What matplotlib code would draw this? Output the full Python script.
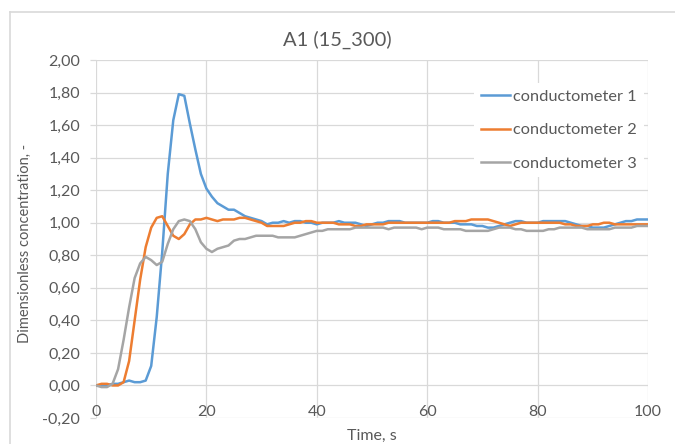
import numpy as np
import matplotlib
matplotlib.use("Agg")
import matplotlib.pyplot as plt
from matplotlib.ticker import FuncFormatter, MultipleLocator
from matplotlib.lines import Line2D

plt.rcParams['font.family'] = ['Lato', 'DejaVu Sans']

### DATA
time_s = list(range(0, 101))

cond1 = [0.00, 0.00, 0.00, 0.01, 0.01, 0.02, 0.03, 0.02, 0.02, 0.03,
         0.12, 0.42, 0.82, 1.30, 1.63, 1.79, 1.78, 1.61, 1.45, 1.30,
         1.21, 1.16, 1.12, 1.10, 1.08, 1.08, 1.06, 1.04, 1.03, 1.02,
         1.01, 0.99, 1.00, 1.00, 1.01, 1.00, 1.01, 1.01, 1.00, 1.00,
         0.99, 1.00, 1.00, 1.00, 1.01, 1.00, 1.00, 1.00, 0.99, 0.98,
         0.99, 1.00, 1.00, 1.01, 1.01, 1.01, 1.00, 1.00, 1.00, 1.00,
         1.00, 1.01, 1.01, 1.00, 1.00, 1.00, 0.99, 0.99, 0.99, 0.98,
         0.98, 0.97, 0.97, 0.98, 0.99, 1.00, 1.01, 1.01, 1.00, 1.00,
         1.00, 1.01, 1.01, 1.01, 1.01, 1.01, 1.00, 0.99, 0.98, 0.98,
         0.97, 0.97, 0.97, 0.98, 0.99, 1.00, 1.01, 1.01, 1.02, 1.02,
         1.02]

cond2 = [0.00, 0.01, 0.01, 0.00, 0.00, 0.02, 0.15, 0.40, 0.65, 0.85,
         0.97, 1.03, 1.04, 0.98, 0.92, 0.90, 0.93, 0.99, 1.02, 1.02,
         1.03, 1.02, 1.01, 1.02, 1.02, 1.02, 1.03, 1.03, 1.02, 1.01,
         1.00, 0.98, 0.98, 0.98, 0.98, 0.99, 1.00, 1.00, 1.01, 1.01,
         1.00, 1.00, 1.00, 1.00, 0.99, 0.99, 0.99, 0.98, 0.98, 0.99,
         0.99, 0.99, 0.99, 1.00, 1.00, 1.00, 1.00, 1.00, 1.00, 1.00,
         1.00, 1.00, 1.00, 1.00, 1.00, 1.01, 1.01, 1.01, 1.02, 1.02,
         1.02, 1.02, 1.01, 1.00, 0.99, 0.98, 0.99, 1.00, 1.00, 1.00,
         1.00, 1.00, 1.00, 1.00, 1.00, 0.99, 0.99, 0.98, 0.98, 0.98,
         0.99, 0.99, 1.00, 1.00, 0.99, 0.99, 0.99, 0.99, 0.99, 0.99,
         0.99]

cond3 = [0.00, -0.01, -0.01, 0.01, 0.10, 0.28, 0.48, 0.66, 0.75, 0.79,
         0.77, 0.74, 0.76, 0.87, 0.96, 1.01, 1.02, 1.01, 0.96, 0.88,
         0.84, 0.82, 0.84, 0.85, 0.86, 0.89, 0.90, 0.90, 0.91, 0.92,
         0.92, 0.92, 0.92, 0.91, 0.91, 0.91, 0.91, 0.92, 0.93, 0.94,
         0.95, 0.95, 0.96, 0.96, 0.96, 0.96, 0.96, 0.97, 0.97, 0.97,
         0.97, 0.97, 0.97, 0.96, 0.97, 0.97, 0.97, 0.97, 0.97, 0.96,
         0.97, 0.97, 0.97, 0.96, 0.96, 0.96, 0.96, 0.95, 0.95, 0.95,
         0.95, 0.95, 0.96, 0.97, 0.97, 0.97, 0.96, 0.96, 0.95, 0.95,
         0.95, 0.95, 0.96, 0.96, 0.97, 0.97, 0.97, 0.97, 0.97, 0.96,
         0.96, 0.96, 0.96, 0.96, 0.97, 0.97, 0.97, 0.97, 0.98, 0.98,
         0.98]

seriesLabels = ["conductometer 1", "conductometer 2", "conductometer 3"]
seriesColors = ["#5B9BD5", "#ED7D31", "#A5A5A5"]

titleText = "A1 (15_300)"
xLabel = "Time, s"
yLabel = "Dimensionless concentration, -"

textColor = "#595959"
gridColor = "#D9D9D9"

W, H = 675, 444


def main():
    fig = plt.figure(figsize=(W / 100, H / 100), dpi=100)
    ax = fig.add_axes([96 / W, 1 - 418 / H, (648 - 96) / W, (418 - 60) / H])

    for values, label, color in zip([cond1, cond2, cond3], seriesLabels, seriesColors):
        ax.plot(time_s, values, color=color, lw=1.8, label=label,
                solid_joinstyle='round', zorder=3)

    ax.set_xlim(0, 100)
    ax.set_ylim(-0.2, 2.0)
    ax.xaxis.set_major_locator(MultipleLocator(20))
    ax.yaxis.set_major_locator(MultipleLocator(0.2))
    ax.yaxis.set_major_formatter(FuncFormatter(lambda v, p: f"{v:.2f}".replace('.', ',')))

    ax.grid(True, color=gridColor, lw=0.9, zorder=0)
    for s in ax.spines.values():
        s.set_visible(False)
    # x labels sit just under the zero line like in excel
    ax.spines['bottom'].set_position(('data', 0))

    ax.tick_params(axis='x', length=0, pad=14, labelsize=11.5, labelcolor=textColor)
    ax.tick_params(axis='y', length=4.3, width=0.9, color=gridColor, pad=7,
                   labelsize=11.5, labelcolor=textColor)

    fig.text(0.5, 1 - 40 / H, titleText, ha='center', va='center',
             fontsize=14.5, color=textColor)
    fig.text(372 / W, 1 - 436 / H, xLabel, ha='center', va='center',
             fontsize=11.5, color=textColor)
    fig.text(25 / W, 1 - 243 / H, yLabel, ha='center', va='center',
             rotation=90, fontsize=10.5, color=textColor)

    leg = ax.legend(loc='upper left', bbox_to_anchor=(474 / W, 1 - 83 / H),
                    bbox_transform=fig.transFigure, frameon=True, fancybox=False,
                    borderaxespad=0, borderpad=0.4, handlelength=1.8,
                    handletextpad=0.2, labelspacing=1.15, fontsize=11.8)
    leg.get_frame().set_facecolor('white')
    leg.get_frame().set_edgecolor('none')
    leg.get_frame().set_alpha(1)
    for t in leg.get_texts():
        t.set_color(textColor)

    # chart outer border (cropped on right/bottom)
    fig.add_artist(Line2D([10 / W, 1], [1 - 12 / H, 1 - 12 / H], color=gridColor,
                          lw=1.2, transform=fig.transFigure))
    fig.add_artist(Line2D([10 / W, 10 / W], [0, 1 - 12 / H], color=gridColor,
                          lw=1.2, transform=fig.transFigure))

    fig.savefig("out.png", dpi=100)


if __name__ == "__main__":
    main()
